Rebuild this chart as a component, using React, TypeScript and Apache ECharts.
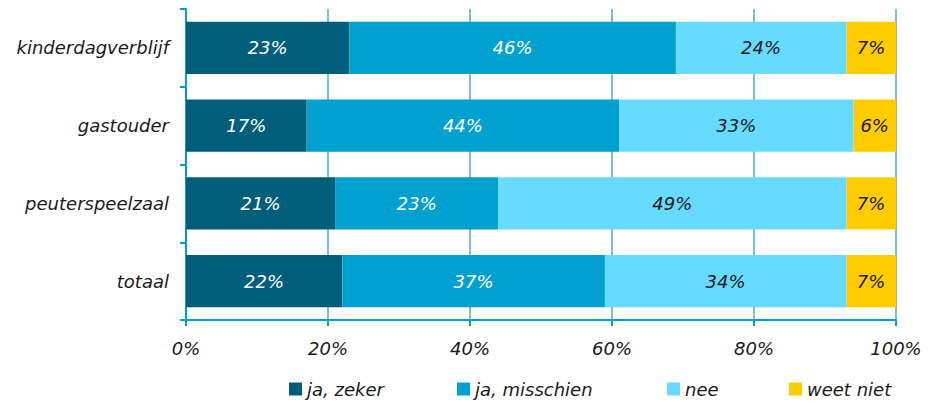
import React, { useEffect, useRef } from "react";
import * as echarts from "echarts";

const categories = ["kinderdagverblijf", "gastouder", "peuterspeelzaal", "totaal"];
const seriesNames = ["ja, zeker", "ja, misschien", "nee", "weet niet"];
const jaZeker = [23, 17, 21, 22];
const jaMisschien = [46, 44, 23, 37];
const nee = [24, 33, 49, 34];
const weetNiet = [7, 6, 7, 7];
const xTicks = [0, 20, 40, 60, 80, 100];

const colors = ["#005E7A", "#00A0D0", "#66DAFF", "#FFCC00"];
const labelColors = ["#ffffff", "#ffffff", "#1a1a1a", "#1a1a1a"];
const legendLefts = [289, 457, 667, 789];
const FONT = "DejaVu Sans";
const FS = 18;

export default function App() {
  const ref = useRef<HTMLDivElement>(null);
  useEffect(() => {
    if (!ref.current) return;
    const chart = echarts.init(ref.current, null, { renderer: "svg" });
    const values = [jaZeker, jaMisschien, nee, weetNiet];
    chart.setOption({
      animation: false,
      textStyle: { fontFamily: FONT, fontStyle: "italic" },
      grid: { left: 186, right: 41, top: 9, bottom: 83, containLabel: false },
      legend: seriesNames.map((name, i) => ({
        data: [name],
        left: legendLefts[i],
        top: 380,
        itemWidth: 13,
        itemHeight: 13,
        padding: 0,
        icon: "rect",
        textStyle: { fontFamily: FONT, fontStyle: "italic", fontSize: FS, color: "#1a1a1a" },
      })),
      xAxis: {
        type: "value",
        min: 0,
        max: 100,
        interval: 20,
        axisLine: { show: true, lineStyle: { color: "#00A0D0", width: 2 } },
        axisTick: { show: true, length: 6, lineStyle: { color: "#00A0D0", width: 2 } },
        splitLine: { show: true, lineStyle: { color: "#4AAAD6", width: 1.5 } },
        axisLabel: {
          margin: 19,
          fontSize: FS,
          fontStyle: "italic",
          fontFamily: FONT,
          color: "#1a1a1a",
          formatter: (v: number) => (xTicks.includes(v) ? v + "%" : ""),
        },
      },
      yAxis: {
        type: "category",
        data: categories,
        inverse: true,
        axisLine: { show: true, lineStyle: { color: "#00A0D0", width: 2 } },
        axisTick: { show: true, length: 6, lineStyle: { color: "#00A0D0", width: 2 } },
        axisLabel: {
          margin: 17,
          fontSize: FS,
          fontStyle: "italic",
          fontFamily: FONT,
          color: "#1a1a1a",
        },
      },
      series: seriesNames.map((name, i) => ({
        name,
        type: "bar",
        stack: "total",
        barCategoryGap: "33%",
        data: values[i],
        itemStyle: { color: colors[i] },
        label: {
          show: true,
          position: "inside",
          formatter: "{c}%",
          color: labelColors[i],
          fontSize: FS,
          fontStyle: "italic",
          fontFamily: FONT,
        },
      })),
    });
    return () => chart.dispose();
  }, []);
  return <div ref={ref} style={{ width: 937, height: 403, position: "absolute", left: 0, top: 0 }} />;
}
